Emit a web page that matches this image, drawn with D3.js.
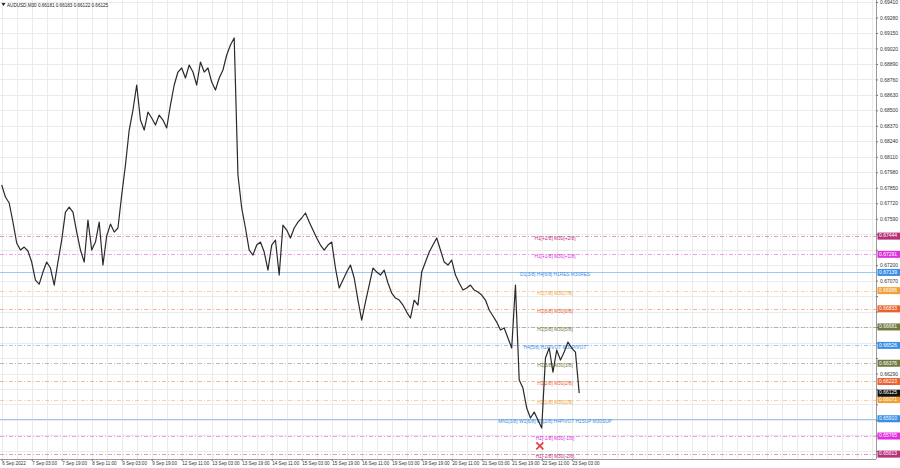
<!DOCTYPE html>
<html><head><meta charset="utf-8">
<script src="https://cdn.jsdelivr.net/npm/d3@7"></script>
<style>
body{margin:0;background:#fff;}
svg{display:block;font-family:"Liberation Sans",Arial,sans-serif;}
</style>
</head><body>
<svg id="c" width="900" height="468"></svg>
<script>
// ---------- DATA ----------
const symbol = "AUDUSD,M30";
const ohlcNow = [0.66181, 0.66183, 0.66122, 0.66125];
const barsPerSample = 4;
const closes = [
0.67873,0.67772,0.67722,0.67562,0.67386,0.67327,0.67352,0.67319,0.67226,0.67075,
0.67041,0.67142,0.67226,0.67176,0.67033,0.67226,0.67411,0.67646,0.67688,0.67646,
0.67478,0.67327,0.67226,0.67579,0.67327,0.67394,0.67562,0.67201,0.67445,0.67545,
0.67478,0.67512,0.67789,0.68041,0.68335,0.68503,0.68713,0.68419,0.68335,0.68486,
0.68436,0.68377,0.68461,0.68419,0.68352,0.68545,0.68713,0.68822,0.68856,0.68772,
0.68881,0.68822,0.68713,0.68906,0.68822,0.68856,0.68738,0.68671,0.68772,0.68839,
0.68965,0.69049,0.69108,0.67957,0.67680,0.67512,0.67327,0.67285,0.67369,0.67394,
0.67310,0.67159,0.67369,0.67411,0.67117,0.67537,0.67495,0.67428,0.67512,0.67562,
0.67596,0.67638,0.67562,0.67495,0.67428,0.67369,0.67327,0.67369,0.67394,0.67176,
0.67008,0.67075,0.67142,0.67201,0.67092,0.66907,0.66739,0.66890,0.67033,0.67176,
0.67142,0.67117,0.67159,0.67050,0.66966,0.66924,0.66907,0.66865,0.66806,0.66756,
0.66907,0.66865,0.67142,0.67226,0.67310,0.67369,0.67428,0.67327,0.67226,0.67201,
0.67243,0.67117,0.67050,0.66991,0.67008,0.67033,0.66991,0.66974,0.66949,0.66907,
0.66823,0.66773,0.66722,0.66655,0.66672,0.66588,0.66504,0.67033,0.66235,0.66168,
0.66000,0.65916,0.65966,0.65899,0.65832,0.66420,0.66504,0.66302,0.66487,0.66403,
0.66470,0.66554,0.66504,0.66470,0.66125
];
const barsPerLabel = 32;
const timeLabels = ["6 Sep 2022","7 Sep 03:00","7 Sep 19:00","8 Sep 11:00","9 Sep 03:00","9 Sep 19:00",
"12 Sep 11:00","13 Sep 03:00","13 Sep 19:00","14 Sep 11:00","15 Sep 03:00","15 Sep 19:00","16 Sep 11:00",
"19 Sep 03:00","19 Sep 19:00","20 Sep 11:00","21 Sep 03:00","21 Sep 19:00","22 Sep 11:00","23 Sep 03:00"];
const priceTicks = [0.69410,0.69280,0.69150,0.69020,0.68890,0.68760,0.68630,0.68500,0.68370,0.68240,
0.68110,0.67980,0.67850,0.67720,0.67590,0.67460,0.67330,0.67200,0.67070,0.66940,0.66810,0.66680,
0.66550,0.66420,0.66290,0.66160,0.66030,0.65900,0.65770,0.65640];
const levelNames = ["H1[+2/8] M30[+2/8]","H1[+1/8] M30[+1/8]","D1[3/8] H4[6/8] H1RES M30RES",
"H1[7/8] M30[7/8]","H1[6/8] M30[6/8]","H1[5/8] M30[5/8]","H4[5/8] H1PIVOT M30PIVOT",
"H1[3/8] M30[3/8]","H1[2/8] M30[2/8]","H1[1/8] M30[1/8]",
"MN1[3/8] W1[6/8] D1[2/8] H4PIVOT H1SUP M30SUP","H1[-1/8] M30[-1/8]","H1[-2/8] M30[-2/8]"];
const levelPrices = [0.67444,0.67291,0.67139,0.66986,0.66833,0.66681,0.66526,0.66376,0.66223,0.66071,0.65910,0.65765,0.65613];
const markerBars = [574];
const markerPrices = [0.65682];

// ---------- STYLE ----------
const levelColors = ["#b8307a","#e02ee0","#3b8ee8","#f0a035","#e8632e","#6e7a40","#3b8ee8",
"#6e7a40","#e8632e","#f0a035","#3b8ee8","#e02ee0","#b8307a"];
const solidLevels = [2,10];

const W = 876, H = 459;
const svg = d3.select("#c");
const x = d3.scaleLinear().domain([0, 928]).range([1.7, 871.7]);
const y = d3.scaleLinear().domain([0.65572, 0.69427]).range([H, 0]);

// grid
const g = svg.append("g");
const gridBars = d3.range(0, 929, 16);
g.selectAll("line.v").data(gridBars).enter().append("line")
  .attr("x1", d => Math.round(x(d)) + 0.5).attr("x2", d => Math.round(x(d)) + 0.5)
  .attr("y1", 0).attr("y2", H).attr("stroke", "#ebebeb").attr("stroke-width", 1);
g.selectAll("line.h").data(priceTicks).enter().append("line")
  .attr("x1", 0).attr("x2", W)
  .attr("y1", d => Math.round(y(d)) + 0.5).attr("y2", d => Math.round(y(d)) + 0.5)
  .attr("stroke", "#ebebeb").attr("stroke-width", 1);

// levels
const lv = svg.append("g");
levelPrices.forEach((p, i) => {
  const yy = Math.round(y(p)) + 0.5;
  const solid = solidLevels.includes(i);
  lv.append("line").attr("x1", 0).attr("x2", W).attr("y1", yy).attr("y2", yy)
    .attr("stroke", solid ? "#9ec8f0" : levelColors[i])
    .attr("stroke-width", solid ? 1.2 : 0.8)
    .attr("stroke-opacity", solid ? 1 : 0.6)
    .attr("stroke-dasharray", solid ? null : "4,2,1,2");
  lv.append("text").attr("x", 555).attr("y", yy + 2.5)
    .attr("text-anchor", "middle").attr("dominant-baseline", "middle")
    .attr("font-size", 4.8).attr("fill", levelColors[i]).text(levelNames[i]);
});

// price line
const line = d3.line().x((d, i) => x(i * barsPerSample)).y(d => y(d));
svg.append("path").datum(closes).attr("d", line)
  .attr("fill", "none").attr("stroke", "#2a2a2a").attr("stroke-width", 1.2)
  .attr("stroke-linejoin", "round");

// marker X
markerBars.forEach((b, i) => {
  const cx = x(b), cy = y(markerPrices[i]), s = 3.5;
  svg.append("path").attr("d", `M${cx-s},${cy-s}L${cx+s},${cy+s}M${cx+s},${cy-s}L${cx-s},${cy+s}`)
    .attr("stroke", "#e03c3c").attr("stroke-width", 1.6);
});

// frame
svg.append("line").attr("x1", W + 0.5).attr("x2", W + 0.5).attr("y1", 0).attr("y2", H)
  .attr("stroke", "#9a9a9a");
svg.append("line").attr("x1", 0).attr("x2", W).attr("y1", H + 0.5).attr("y2", H + 0.5)
  .attr("stroke", "#9a9a9a");

// price axis (labels hidden under the level tags are not drawn)
const tagPrices = levelPrices.concat([ohlcNow[3]]);
const visibleTicks = priceTicks.filter(t => !tagPrices.some(p => Math.abs(y(p) - y(t)) < 7));
const ya = svg.append("g").attr("transform", `translate(${W},0)`)
  .call(d3.axisRight(y).tickValues(priceTicks)
    .tickFormat(d => visibleTicks.includes(d) ? d3.format(".5f")(d) : "").tickSize(2).tickPadding(2));
ya.select(".domain").remove();
ya.selectAll("line").attr("stroke", "#777");
ya.selectAll("text").attr("font-size", 5).attr("fill", "#333").attr("font-family", "Liberation Sans, Arial");

// time axis
const xa = svg.append("g").attr("transform", `translate(0,${H})`)
  .call(d3.axisBottom(x).tickValues(timeLabels.map((d, i) => i * barsPerLabel))
    .tickFormat((d, i) => timeLabels[i]).tickSize(2).tickPadding(1));
xa.select(".domain").remove();
xa.selectAll("line").attr("stroke", "#777");
xa.selectAll("text").attr("font-size", 4.6).attr("fill", "#333").attr("text-anchor", "start")
  .attr("font-family", "Liberation Sans, Arial");

// level tags
const tags = svg.append("g");
levelPrices.forEach((p, i) => {
  const yy = y(p);
  tags.append("rect").attr("x", W + 1.5).attr("y", yy - 3.5).attr("width", 23).attr("height", 7)
    .attr("fill", levelColors[i]);
  tags.append("text").attr("x", W + 3).attr("y", yy).attr("dominant-baseline", "middle")
    .attr("font-size", 5).attr("fill", "#fff").text(d3.format(".5f")(p));
});
const cur = ohlcNow[3];
tags.append("rect").attr("x", W + 1.5).attr("y", y(cur) - 3.5).attr("width", 23).attr("height", 7).attr("fill", "#111");
tags.append("text").attr("x", W + 3).attr("y", y(cur)).attr("dominant-baseline", "middle")
  .attr("font-size", 5).attr("fill", "#fff").text(d3.format(".5f")(cur));

// header
svg.append("path").attr("d", "M1.5,3L5.5,3L3.5,6Z").attr("fill", "#222");
svg.append("text").attr("x", 7).attr("y", 6.5).attr("font-size", 4.6).attr("fill", "#222")
  .text(symbol + "  " + ohlcNow.map(d3.format(".5f")).join(" "));
</script>
</body></html>
